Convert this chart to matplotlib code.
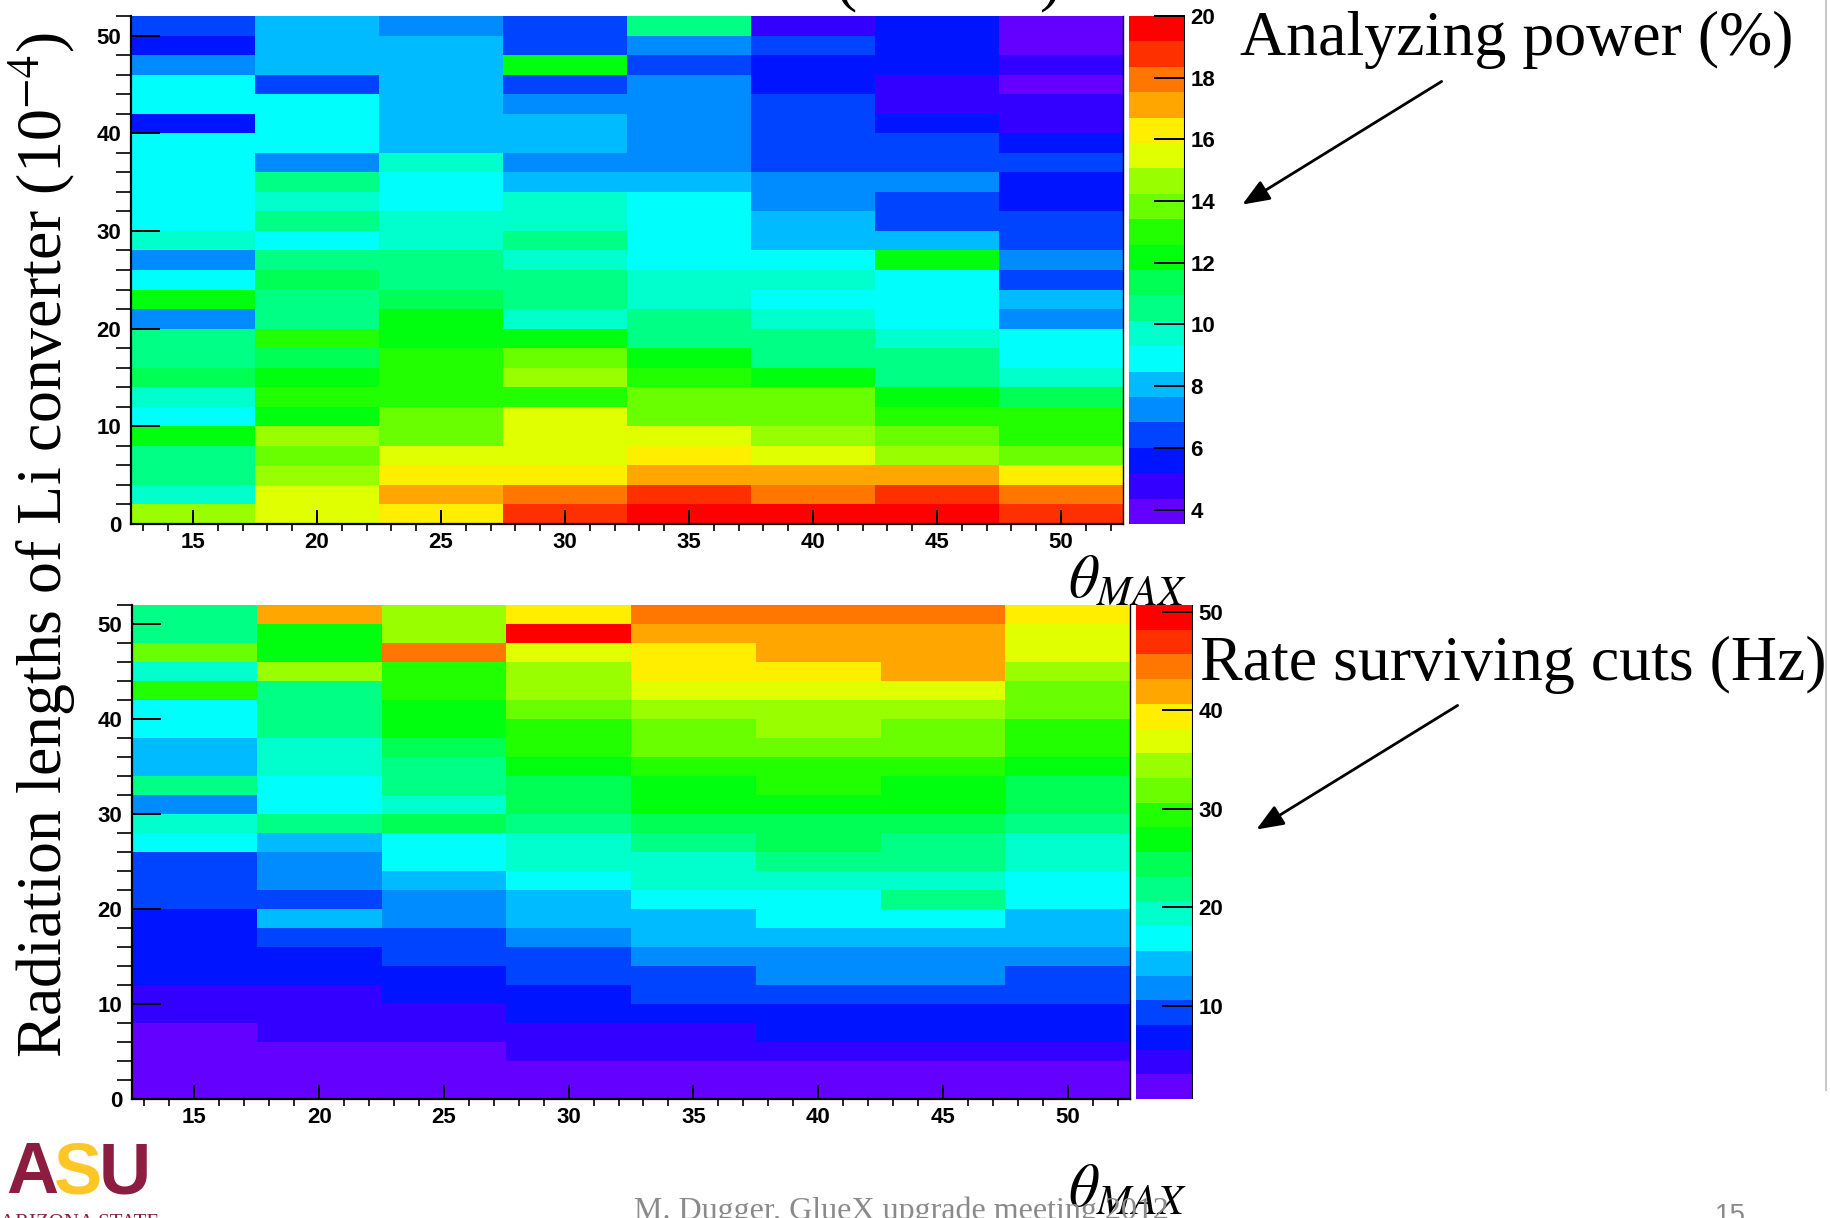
import colorsys
import numpy as np
import matplotlib
matplotlib.use('Agg')
import matplotlib.pyplot as plt
from matplotlib.colors import ListedColormap, BoundaryNorm
from matplotlib.ticker import MultipleLocator
from matplotlib.patches import FancyArrowPatch

# bin edges: theta_max in 5 deg bins, converter thickness in 2e-4 X0 bins
theta_edges = np.arange(12.5, 53.0, 5.0)
rad_edges = np.arange(0.0, 53.0, 2.0)

theta_ticks = [15, 20, 25, 30, 35, 40, 45, 50]
rad_ticks = [0, 10, 20, 30, 40, 50]
ap_ticks = [4, 6, 8, 10, 12, 14, 16, 18, 20]
rate_ticks = [10, 20, 30, 40, 50]

# z range of each histogram (min, max of the palette)
ap_range = (3.53, 20.0)
rate_range = (0.5, 50.7)

# analyzing power (%) -- rows from the top bin (50-52) down to the bottom bin (0-2),
# columns theta_max = 15, 20, ..., 50
analyzing_power = [
    [6.4, 8.1, 7.2, 6.4, 10.5, 4.8, 5.6, 3.9],
    [5.6, 8.1, 8.1, 6.4, 7.2, 6.4, 5.6, 3.9],
    [7.2, 8.1, 8.1, 12.2, 6.4, 5.6, 5.6, 4.8],
    [8.9, 6.4, 8.1, 6.4, 7.2, 5.6, 4.8, 3.9],
    [8.9, 8.9, 8.1, 7.2, 7.2, 6.4, 4.8, 4.8],
    [5.6, 8.9, 8.1, 8.1, 7.2, 6.4, 5.6, 4.8],
    [8.9, 8.9, 8.1, 8.1, 7.2, 6.4, 6.4, 5.6],
    [8.9, 7.2, 9.7, 7.2, 7.2, 6.4, 6.4, 6.4],
    [8.9, 10.5, 8.9, 8.1, 8.1, 7.2, 7.2, 5.6],
    [8.9, 9.7, 8.9, 9.7, 8.9, 7.2, 6.4, 5.6],
    [8.9, 10.5, 9.7, 9.7, 8.9, 8.1, 6.4, 6.4],
    [9.7, 8.9, 9.7, 10.5, 8.9, 8.1, 8.1, 6.4],
    [7.2, 10.5, 10.5, 9.7, 8.9, 8.9, 12.2, 7.2],
    [8.9, 11.3, 10.5, 10.5, 9.7, 9.7, 8.9, 6.4],
    [12.2, 10.5, 11.3, 10.5, 9.7, 8.9, 8.9, 8.1],
    [7.2, 10.5, 12.2, 9.7, 10.5, 9.7, 8.9, 7.2],
    [10.5, 13.0, 12.2, 12.2, 10.5, 10.5, 9.7, 8.9],
    [10.5, 11.3, 13.0, 13.8, 12.2, 10.5, 10.5, 8.9],
    [11.3, 12.2, 13.0, 14.6, 13.0, 12.2, 10.5, 9.7],
    [9.7, 13.0, 13.0, 13.0, 13.8, 13.8, 12.2, 11.3],
    [8.9, 12.2, 13.8, 15.5, 13.8, 13.8, 13.0, 13.0],
    [12.2, 14.6, 13.8, 15.5, 15.5, 14.6, 13.8, 13.0],
    [10.5, 13.8, 15.5, 15.5, 16.3, 15.5, 14.6, 13.8],
    [10.5, 14.6, 16.3, 16.3, 17.1, 17.1, 17.1, 16.3],
    [9.7, 15.5, 17.1, 17.9, 18.8, 17.9, 18.8, 17.9],
    [14.6, 15.5, 16.3, 18.8, 19.6, 19.6, 19.6, 18.8],
]

# rate surviving cuts (Hz), same layout
rate = [
    [21.8, 41.9, 34.4, 39.4, 44.4, 44.4, 44.4, 39.4],
    [21.8, 26.9, 34.4, 49.4, 41.9, 41.9, 41.9, 36.9],
    [31.9, 26.9, 44.4, 36.9, 39.4, 41.9, 41.9, 36.9],
    [19.3, 34.4, 29.4, 34.4, 39.4, 39.4, 41.9, 34.4],
    [29.4, 21.8, 29.4, 34.4, 36.9, 36.9, 36.9, 31.9],
    [16.8, 21.8, 26.9, 31.9, 34.4, 34.4, 34.4, 31.9],
    [16.8, 21.8, 26.9, 29.4, 31.9, 34.4, 31.9, 29.4],
    [14.3, 19.3, 24.3, 29.4, 31.9, 31.9, 31.9, 29.4],
    [14.3, 19.3, 21.8, 26.9, 29.4, 29.4, 29.4, 26.9],
    [21.8, 16.8, 21.8, 24.3, 26.9, 29.4, 26.9, 24.3],
    [11.8, 16.8, 19.3, 24.3, 26.9, 26.9, 26.9, 24.3],
    [19.3, 21.8, 24.3, 21.8, 24.3, 24.3, 24.3, 21.8],
    [16.8, 14.3, 16.8, 19.3, 21.8, 24.3, 21.8, 19.3],
    [9.3, 11.8, 16.8, 19.3, 19.3, 21.8, 21.8, 19.3],
    [9.3, 11.8, 14.3, 16.8, 19.3, 19.3, 19.3, 16.8],
    [9.3, 9.3, 11.8, 14.3, 16.8, 16.8, 21.8, 16.8],
    [6.8, 14.3, 11.8, 14.3, 14.3, 16.8, 16.8, 14.3],
    [6.8, 9.3, 9.3, 11.8, 14.3, 14.3, 14.3, 14.3],
    [6.8, 6.8, 9.3, 9.3, 11.8, 11.8, 11.8, 11.8],
    [6.8, 6.8, 6.8, 9.3, 9.3, 11.8, 11.8, 9.3],
    [4.3, 4.3, 6.8, 6.8, 9.3, 9.3, 9.3, 9.3],
    [4.3, 4.3, 4.3, 6.8, 6.8, 6.8, 6.8, 6.8],
    [1.8, 4.3, 4.3, 4.3, 4.3, 6.8, 6.8, 6.8],
    [1.8, 1.8, 1.8, 4.3, 4.3, 4.3, 4.3, 4.3],
    [1.8, 1.8, 1.8, 1.8, 1.8, 1.8, 1.8, 1.8],
    [1.8, 1.8, 1.8, 1.8, 1.8, 1.8, 1.8, 1.8],
]


def pretty_palette(ncont=20, ncol=50):
    # old ROOT "pretty" palette (50 HLS colours, violet -> red), sampled for ncont contours
    cols = []
    for j in range(ncont):
        k = int((j + 0.99) * ncol / ncont)
        hue = 280.0 - (k + 1) * 280.0 / ncol
        cols.append(colorsys.hls_to_rgb(hue / 360.0, 0.5, 1.0))
    return ListedColormap(cols)


plt.rcParams['font.family'] = ['Liberation Sans', 'DejaVu Sans']
plt.rcParams['mathtext.fontset'] = 'stix'

W, H = 1830.0, 1218.0
fig = plt.figure(figsize=(W / 100, H / 100), dpi=100)
cmap = pretty_palette()


def box(x0, y0, x1, y1):
    return [x0 / W, 1 - y1 / H, (x1 - x0) / W, (y1 - y0) / H]


def panel(ax, cax, values, zlim, cticks):
    z = np.flipud(np.array(values))
    norm = BoundaryNorm(np.linspace(zlim[0], zlim[1], cmap.N + 1), cmap.N)
    mesh = ax.pcolormesh(theta_edges, rad_edges, z, cmap=cmap, norm=norm,
                         shading='flat', antialiased=False, edgecolors='face', linewidth=0)
    ax.set_xlim(theta_edges[0], theta_edges[-1])
    ax.set_ylim(rad_edges[0], rad_edges[-1])
    ax.set_xticks(theta_ticks, labels=[str(t) for t in theta_ticks], fontweight='bold')
    ax.set_yticks(rad_ticks, labels=[str(t) for t in rad_ticks], fontweight='bold')
    ax.xaxis.set_minor_locator(MultipleLocator(1))
    ax.yaxis.set_minor_locator(MultipleLocator(2))
    ax.tick_params(direction='in', width=1.4, labelsize=16, colors='black')
    ax.tick_params(axis='x', which='major', length=10, pad=6)
    ax.tick_params(axis='x', which='minor', length=5, width=1.2)
    ax.tick_params(axis='y', which='major', length=21, pad=7)
    ax.tick_params(axis='y', which='minor', length=11, width=1.2)
    for s in ['left', 'bottom']:
        ax.spines[s].set_linewidth(1.6)
    ax.spines['top'].set_visible(False)
    ax.spines['right'].set_linewidth(1.0)

    cb = fig.colorbar(mesh, cax=cax)
    cb.set_ticks(cticks, labels=[str(t) for t in cticks], fontweight='bold')
    cb.outline.set_visible(False)
    cb.minorticks_off()
    cax.tick_params(direction='in', length=22, width=1.4, labelsize=16, pad=4)
    cax.axvline(1.0, color='black', lw=1.5)
    return mesh


ax_top = fig.add_axes(box(131, 16, 1123, 524))
cax_top = fig.add_axes(box(1129, 16, 1185, 524))
ax_bot = fig.add_axes(box(132, 605, 1130, 1099))
cax_bot = fig.add_axes(box(1136, 605, 1193, 1099))

panel(ax_top, cax_top, analyzing_power, ap_range, ap_ticks)
panel(ax_bot, cax_bot, rate, rate_range, rate_ticks)

serif = dict(family=['Liberation Serif', 'DejaVu Serif'], weight='normal', color='black')


def ftext(px, py, s, **kw):
    return fig.text(px / W, 1 - py / H, s, **kw)


# shared y title
ftext(42, 545, r'Radiation lengths of Li converter (10$^{-4}$)', rotation=90,
      ha='center', va='center', fontsize=46, **serif)

# x titles
ftext(1068, 598, r'$\theta_{MAX}$', ha='left', va='baseline', fontsize=43, **serif)
ftext(1068, 1207, r'$\theta_{MAX}$', ha='left', va='baseline', fontsize=43, **serif)

# tail of the title above the upper panel
ftext(835, -2, '(', ha='left', va='baseline', fontsize=46, **serif)
ftext(1040, -2, ')', ha='left', va='baseline', fontsize=46, **serif)

# annotations with arrows
ftext(1240, 55, 'Analyzing power (%)', ha='left', va='baseline', fontsize=46, **serif)
ftext(1200, 680, 'Rate surviving cuts (Hz)', ha='left', va='baseline', fontsize=46, **serif)

for (x0, y0), (x1, y1) in [((1444, 80), (1240, 206)), ((1460, 704), (1254, 831))]:
    fig.add_artist(FancyArrowPatch((x0 / W, 1 - y0 / H), (x1 / W, 1 - y1 / H),
                                   transform=fig.transFigure,
                                   arrowstyle='-|>,head_length=0.75,head_width=0.3',
                                   mutation_scale=22, lw=2.0, color='black'))

# footer
ftext(634, 1219, 'M. Dugger, GlueX upgrade meeting 2012', ha='left', va='baseline',
      fontsize=23, family=['Liberation Serif'], weight='normal', color='#8a8a8a')
ftext(1715, 1223, '15', ha='left', va='baseline', fontsize=20,
      family=['Liberation Sans'], weight='normal', color='#8a8a8a')

# university logo
maroon, gold = '#8C1D40', '#FFC627'
ftext(6, 1193, 'A', ha='left', va='baseline', fontsize=52, weight='bold', color=maroon)
ftext(54, 1193, 'S', ha='left', va='baseline', fontsize=52, weight='bold', color=gold)
ftext(99, 1193, 'U', ha='left', va='baseline', fontsize=52, weight='bold', color=maroon)
ftext(0, 1228, 'ARIZONA STATE', ha='left', va='baseline', fontsize=15,
      family=['Liberation Serif'], weight='normal', color=maroon)

# slide border on the right
fig.add_artist(plt.Line2D([1826 / W, 1826 / W], [1.0, 1 - 1090 / H],
                          transform=fig.transFigure, color='#c8c8c8', lw=1.5))

fig.savefig('out.png', dpi=100)
